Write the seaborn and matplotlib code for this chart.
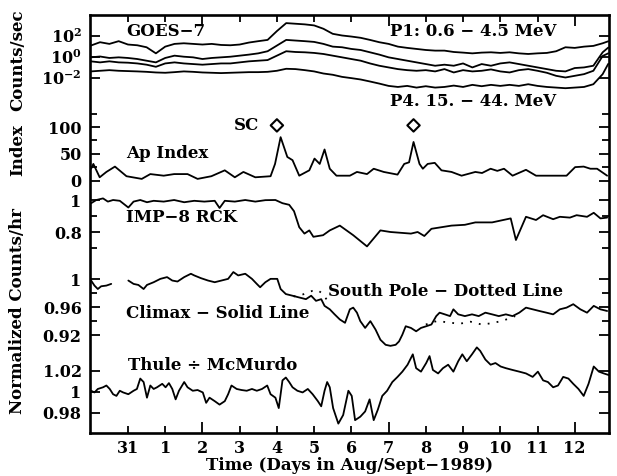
import numpy as np
import pandas as pd
import matplotlib
matplotlib.use("Agg")
import matplotlib.pyplot as plt
import seaborn as sns

# ---------------- data (time in days; 0 = Aug 31, 1 = Sept 1, ...) ----------------
day_ticks = [0, 1, 2, 3, 4, 5, 6, 7, 8, 9, 10, 11, 12]
day_labels = ["31", "1", "2", "3", "4", "5", "6", "7", "8", "9", "10", "11", "12"]

goes_t = [-1.0, -0.75, -0.5, -0.25, 0.0, 0.25, 0.5, 0.75, 1.0, 1.25, 1.5, 1.75, 2.0,
          2.25, 2.5, 2.75, 3.0, 3.25, 3.5, 3.75, 4.0, 4.25, 4.5, 4.75, 5.0, 5.25, 5.5,
          5.75, 6.0, 6.25, 6.5, 6.75, 7.0, 7.25, 7.5, 7.75, 8.0, 8.25, 8.5, 8.75, 9.0,
          9.25, 9.5, 9.75, 10.0, 10.25, 10.5, 10.75, 11.0, 11.25, 11.5, 11.75, 12.0,
          12.25, 12.5, 12.75, 12.9]
# log10(counts/sec) of the four GOES-7 proton channels (P1 top ... P4 bottom)
goes_p1_log10 = [1.04, 1.36, 1.20, 1.46, 1.14, 1.07, 0.88, 0.30, 0.94, 1.20, 1.26, 1.20, 1.14,
                 1.20, 1.10, 1.07, 1.14, 1.33, 1.46, 1.58, 2.42, 3.18, 3.12, 3.06, 2.96, 2.64,
                 2.16, 2.00, 1.90, 1.78, 1.58, 1.36, 1.20, 0.94, 0.82, 0.72, 0.62, 0.56, 0.56,
                 0.43, 0.37, 0.30, 0.37, 0.40, 0.34, 0.40, 0.30, 0.24, 0.30, 0.34, 0.50, 0.88,
                 0.82, 0.94, 1.01, 1.26, 1.45]
goes_p2_log10 = [-0.08, 0.00, -0.14, -0.08, -0.14, -0.24, -0.40, -0.56, -0.14, 0.08, -0.02, -0.08,
                 -0.24, -0.14, -0.08, -0.02, 0.08, 0.18, 0.30, 0.50, 1.04, 1.58, 1.52, 1.46, 1.39,
                 1.20, 0.94, 0.88, 0.72, 0.62, 0.40, 0.18, -0.08, -0.24, -0.40, -0.56, -0.72,
                 -0.88, -0.78, -0.88, -0.66, -1.04, -0.72, -0.88, -0.66, -0.56, -0.72, -0.88,
                 -1.04, -1.20, -1.36, -1.42, -1.10, -1.04, -0.88, 0.40, 0.85]
goes_p3_log10 = [-0.46, -0.56, -0.46, -0.56, -0.59, -0.66, -0.78, -0.98, -0.66, -0.56, -0.66,
                 -0.72, -0.78, -0.72, -0.66, -0.66, -0.56, -0.46, -0.40, -0.34, 0.08, 0.50, 0.43,
                 0.40, 0.34, 0.24, 0.08, -0.08, -0.24, -0.40, -0.66, -0.88, -1.04, -1.20, -1.30,
                 -1.36, -1.30, -1.42, -1.20, -1.52, -1.30, -1.42, -1.36, -1.23, -1.42, -1.52,
                 -1.30, -1.20, -1.36, -1.55, -1.84, -2.00, -1.84, -1.68, -1.36, 0.05, 0.30]
goes_p4_log10 = [-1.42, -1.36, -1.30, -1.36, -1.39, -1.42, -1.46, -1.52, -1.55, -1.49, -1.42,
                 -1.46, -1.52, -1.55, -1.58, -1.55, -1.52, -1.49, -1.49, -1.46, -1.36, -1.17,
                 -1.20, -1.30, -1.42, -1.62, -1.74, -1.94, -2.06, -2.19, -2.38, -2.58, -2.80,
                 -2.90, -2.80, -2.96, -2.83, -2.96, -2.90, -2.77, -2.90, -2.70, -2.83, -2.70,
                 -2.80, -2.70, -2.80, -2.64, -2.80, -2.90, -2.96, -3.02, -2.96, -2.90, -2.64,
                 -1.68, -0.70]

ap_t = [-0.99, -0.93, -0.76, -0.58, -0.35, -0.04, 0.37, 0.60, 0.96, 1.24, 1.60, 1.87, 2.24,
        2.60, 2.87, 3.10, 3.42, 3.83, 3.95, 4.10, 4.28, 4.42, 4.60, 4.87, 5.01, 5.15, 5.28,
        5.42, 5.60, 5.96, 6.15, 6.42, 6.60, 6.87, 7.24, 7.42, 7.55, 7.67, 7.83, 7.92, 8.05,
        8.24, 8.42, 8.69, 8.96, 9.33, 9.51, 9.74, 9.92, 10.10, 10.33, 10.69, 10.96, 11.78,
        12.01, 12.24, 12.42, 12.60, 12.87]
ap_index = [22, 31, 6, 16, 26, 8, 3, 12, 9, 12, 12, 3, 8, 19, 6, 16, 6, 8, 31, 81, 44, 38, 9,
            19, 41, 31, 58, 22, 9, 9, 16, 12, 22, 16, 11, 31, 34, 72, 31, 22, 31, 33, 19, 16,
            9, 16, 14, 22, 18, 22, 9, 20, 9, 9, 25, 26, 22, 22, 9]
sc_t = [4.0, 7.67]
sc_level = [103, 103]

imp_t = [-0.99, -0.85, -0.67, -0.54, -0.40, -0.22, 0.01, 0.15, 0.33, 0.51, 0.69, 0.96, 1.24,
         1.51, 1.78, 2.05, 2.33, 2.46, 2.60, 2.87, 3.15, 3.42, 3.69, 3.96, 4.15, 4.33, 4.46,
         4.60, 4.74, 4.87, 4.98, 5.24, 5.42, 5.69, 6.05, 6.42, 6.78, 7.05, 7.60, 7.78, 7.96,
         8.15, 8.69, 9.05, 9.33, 9.78, 10.28, 10.42, 10.69, 10.96, 11.15, 11.42, 11.60, 11.87,
         12.05, 12.33, 12.51, 12.69, 12.87]
imp_rck = [0.98, 1.0, 1.01, 0.99, 1.0, 0.995, 0.953, 0.99, 1.0, 0.986, 0.995, 0.99, 1.0, 0.986,
           0.995, 0.99, 0.995, 0.95, 0.995, 0.99, 1.0, 0.99, 0.999, 1.0, 0.98, 0.97, 0.93, 0.83,
           0.79, 0.81, 0.77, 0.78, 0.81, 0.84, 0.78, 0.71, 0.81, 0.80, 0.79, 0.80, 0.775, 0.82,
           0.84, 0.845, 0.86, 0.86, 0.885, 0.75, 0.895, 0.875, 0.905, 0.88, 0.895, 0.89, 0.905,
           0.895, 0.92, 0.885, 0.89]

climax_t = [-0.99, -0.90, -0.81, -0.72, -0.58, -0.45,
            0.01, 0.15, 0.28, 0.42, 0.51, 0.69, 0.87, 1.05, 1.19, 1.33, 1.51, 1.69, 1.78, 1.96,
            2.15, 2.33, 2.51, 2.69, 2.83, 2.96, 3.15, 3.33, 3.46, 3.55, 3.69, 3.83, 4.01, 4.10,
            4.24, 4.42, 4.60, 4.78, 4.92, 5.05, 5.19, 5.28, 5.42, 5.55, 5.69, 5.83, 5.96, 6.05,
            6.15, 6.24, 6.37, 6.51, 6.65, 6.78, 6.92, 7.05, 7.19, 7.28, 7.37, 7.46, 7.60, 7.74,
            7.87, 8.01, 8.15, 8.28, 8.37, 8.51, 8.65, 8.74, 8.87, 9.05, 9.24, 9.42, 9.60, 9.78,
            9.96, 10.15, 10.33, 10.51, 10.69, 10.87, 11.05, 11.24, 11.42, 11.60, 11.78, 11.96,
            12.15, 12.33, 12.51, 12.69, 12.87]
climax_seg = [0] * 6 + [1] * 87
climax = [0.9978, 0.9906, 0.9857, 0.9896, 0.9906, 0.9930,
          0.9978, 0.9930, 0.9915, 0.9857, 0.9915, 0.9954, 1.0002, 1.0027, 0.9978, 0.9964,
          1.0027, 1.0075, 1.0051, 1.0012, 0.9978, 0.9954, 0.9978, 1.0002, 1.0099, 1.0051,
          1.0075, 1.0002, 0.9930, 0.9882, 0.9954, 1.0002, 1.0002, 0.9857, 0.9785, 0.9761,
          0.9736, 0.9712, 0.9761, 0.9688, 0.9712, 0.9616, 0.9567, 0.9495, 0.9422, 0.9374,
          0.9567, 0.9591, 0.9519, 0.9398, 0.9301, 0.9398, 0.9277, 0.9132, 0.9060, 0.9045,
          0.9060, 0.9108, 0.9205, 0.9325, 0.9301, 0.9253, 0.9301, 0.9325, 0.9350, 0.9470,
          0.9519, 0.9495, 0.9470, 0.9567, 0.9495, 0.9470, 0.9495, 0.9470, 0.9519, 0.9495,
          0.9470, 0.9495, 0.9470, 0.9519, 0.9591, 0.9567, 0.9543, 0.9519, 0.9495, 0.9567,
          0.9591, 0.9640, 0.9567, 0.9519, 0.9616, 0.9567, 0.9543]

# South Pole: only the stretches where it departs from Climax (elsewhere hidden under it)
south_pole_t = [4.45, 4.70, 4.95, 5.10, 5.25, 5.40,
                8.00, 8.30, 8.60, 8.90, 9.20, 9.50, 9.80, 10.10, 10.40]
south_pole_seg = [0] * 6 + [1] * 9
south_pole = [0.975, 0.978, 0.983, 0.984, 0.978, 0.965,
              0.935, 0.940, 0.938, 0.936, 0.939, 0.935, 0.937, 0.941, 0.947]

thule_t = [-0.99, -0.90, -0.81, -0.67, -0.58, -0.49, -0.40, -0.31, -0.22, -0.13, 0.01, 0.15,
           0.24, 0.33, 0.42, 0.51, 0.60, 0.69, 0.78, 0.92, 1.01, 1.10, 1.19, 1.28, 1.37, 1.51,
           1.60, 1.74, 1.87, 2.01, 2.10, 2.19, 2.33, 2.46, 2.60, 2.69, 2.78, 2.92, 3.05, 3.19,
           3.33, 3.46, 3.60, 3.74, 3.83, 3.96, 4.05, 4.15, 4.24, 4.33, 4.42, 4.55, 4.69, 4.83,
           4.96, 5.10, 5.19, 5.28, 5.35, 5.42, 5.51, 5.65, 5.78, 5.92, 6.01, 6.10, 6.24, 6.37,
           6.49, 6.60, 6.71, 6.83, 6.96, 7.10, 7.24, 7.37, 7.51, 7.65, 7.74, 7.87, 8.01, 8.10,
           8.19, 8.33, 8.46, 8.60, 8.74, 8.87, 8.98, 9.10, 9.24, 9.37, 9.46, 9.60, 9.74, 9.87,
           10.01, 10.15, 10.33, 10.51, 10.69, 10.87, 11.01, 11.15, 11.28, 11.42, 11.55, 11.69,
           11.83, 11.96, 12.10, 12.24, 12.37, 12.51, 12.65, 12.78, 12.92]
thule_mcmurdo = [1.0009, 0.9993, 1.0026, 1.0042, 1.0059, 1.0026, 0.9976, 0.9960, 1.0009, 0.9993,
                 0.9976, 1.0009, 1.0026, 1.0125, 1.0092, 0.9943, 1.0059, 1.0026, 1.0042, 1.0075,
                 1.0042, 1.0082, 1.0026, 0.9927, 1.0009, 1.0092, 1.0042, 1.0009, 1.0016, 0.9993,
                 0.9894, 0.9943, 0.9910, 0.9877, 0.9910, 0.9976, 1.0059, 1.0026, 1.0016, 1.0009,
                 1.0026, 1.0009, 1.0026, 1.0059, 0.9976, 0.9943, 0.9844, 1.0108, 1.0135, 1.0092,
                 1.0042, 1.0009, 0.9993, 1.0026, 0.9976, 0.9910, 0.9861, 1.0009, 1.0092, 1.0042,
                 0.9844, 0.9696, 0.9778, 1.0009, 0.9960, 0.9729, 0.9762, 0.9812, 0.9927, 0.9729,
                 0.9828, 0.9960, 1.0009, 1.0092, 1.0141, 1.0191, 1.0257, 1.0356, 1.0224, 1.0191,
                 1.0273, 1.0339, 1.0207, 1.0174, 1.0224, 1.0257, 1.0191, 1.0290, 1.0356, 1.0290,
                 1.0356, 1.0422, 1.0389, 1.0306, 1.0257, 1.0273, 1.0240, 1.0224, 1.0207, 1.0191,
                 1.0174, 1.0141, 1.0191, 1.0108, 1.0092, 1.0042, 1.0059, 1.0141, 1.0125, 1.0075,
                 1.0026, 0.9960, 1.0075, 1.0240, 1.0191, 1.0174, 1.0158]

# ---------------- styling ----------------
sns.set_theme(style="white")
FAM = ["DejaVu Serif"]
plt.rcParams["font.family"] = FAM
plt.rcParams["font.weight"] = "bold"
plt.rcParams["mathtext.fontset"] = "custom"
plt.rcParams["mathtext.rm"] = "DejaVu Serif:bold"
plt.rcParams["mathtext.it"] = "DejaVu Serif:bold"
plt.rcParams["mathtext.bf"] = "DejaVu Serif:bold"
plt.rcParams["mathtext.default"] = "rm"
FS = 12.0
TFS = 11.5
LW = 1.3
INK = "black"

W, H = 617, 476
fig = plt.figure(figsize=(W / 100, H / 100), dpi=100)
fig.patch.set_facecolor("white")
PL, PR, PT, PB = 90, 609, 15, 433
rect = [PL / W, 1 - PB / H, (PR - PL) / W, (PB - PT) / H]
XLIM = (-1.02, 12.92)


def lim_from(v1, p1, v2, p2):
    s = (v2 - v1) / (p2 - p1)
    return v1 + s * (PB - p1), v1 + s * (PT - p1)


# frame / time axis
ax0 = fig.add_axes(rect)
ax0.set_facecolor("white")
ax0.set_xlim(*XLIM)
ax0.set_ylim(0, 1)
ax0.set_yticks([])
for sp in ax0.spines.values():
    sp.set_linewidth(1.9)
    sp.set_color(INK)
major_days = [2, 7, 12]
ax0.set_xticks(major_days, [day_labels[day_ticks.index(d)] for d in major_days])
minor_days = [d for d in day_ticks if d not in major_days]
ax0.set_xticks(minor_days, [day_labels[day_ticks.index(d)] for d in minor_days], minor=True)
ax0.tick_params(axis="x", which="both", direction="in", top=True, bottom=True,
                labelsize=TFS, colors=INK, width=1.3, pad=5)
ax0.tick_params(axis="x", which="major", length=8)
ax0.tick_params(axis="x", which="minor", length=5)
ax0.set_xlabel("Time (Days in Aug/Sept\u22121989)", fontsize=FS, color=INK, labelpad=0,
               fontweight="bold")


def panel(ylim, major, labels, minor=(), log=False):
    ax = fig.add_axes(rect)
    ax.patch.set_visible(False)
    for sp in ax.spines.values():
        sp.set_visible(False)
    if log:
        ax.set_yscale("log")
    ax.set_xlim(*XLIM)
    ax.set_ylim(*ylim)
    ax.set_xticks([])
    ax.set_yticks(major, labels)
    ax.set_yticks(list(minor), minor=True)
    if log:
        ax.yaxis.set_minor_locator(matplotlib.ticker.NullLocator())
    ax.tick_params(axis="y", which="both", direction="in", left=True, right=True,
                   labelleft=True, labelright=False, labelsize=TFS, colors=INK, width=1.3, pad=6)
    ax.tick_params(axis="y", which="major", length=7)
    ax.tick_params(axis="y", which="minor", length=5)
    return ax


def line(ax, x, y, **kw):
    sns.lineplot(x=x, y=y, ax=ax, color=INK, linewidth=LW, estimator=None, sort=False, **kw)
    ax.set(xlabel="", ylabel="")


# GOES-7 (log)
lg1, lg2 = lim_from(2.0, 35.5, -2.0, 77.5)
ax_g = panel((10 ** lg1, 10 ** lg2), [1e-2, 1e0, 1e2],
             [r"$10^{-2}$", r"$10^{0}$", r"$10^{2}$"], log=True)
for series in (goes_p1_log10, goes_p2_log10, goes_p3_log10, goes_p4_log10):
    line(ax_g, goes_t, np.power(10.0, np.asarray(series)))
ax_g.set_ylim(10 ** lg1, 10 ** lg2)

# Ap index
ax_ap = panel(lim_from(0, 180.5, 100, 127), [0, 50, 100], ["0", "50", "100"], minor=[25, 75, 125])
line(ax_ap, ap_t, ap_index)
sns.scatterplot(x=sc_t, y=sc_level, ax=ax_ap, marker="D", s=40, linewidth=1.5)
sc = ax_ap.collections[-1]
sc.set_facecolor("none")
sc.set_edgecolor(INK)
ax_ap.set_ylim(*lim_from(0, 180.5, 100, 127))

# IMP-8 RCK
ax_imp = panel(lim_from(1.0, 200, 0.8, 232), [0.8, 1.0], ["0.8", "1"], minor=[0.7, 0.9])
line(ax_imp, imp_t, imp_rck)
ax_imp.set_ylim(*lim_from(1.0, 200, 0.8, 232))

# Climax (solid) and South Pole (dotted)
ax_cl = panel(lim_from(1.0, 279, 0.92, 335), [0.92, 0.96, 1.0], ["0.92", "0.96", "1"],
              minor=[0.94, 0.98])
cl_df = pd.DataFrame({"t": climax_t, "v": climax, "seg": climax_seg})
sns.lineplot(data=cl_df, x="t", y="v", units="seg", estimator=None, sort=False, ax=ax_cl,
             color=INK, linewidth=LW)
sp_df = pd.DataFrame({"t": south_pole_t, "v": south_pole, "seg": south_pole_seg})
sns.lineplot(data=sp_df, x="t", y="v", units="seg", estimator=None, sort=False, ax=ax_cl,
             color=INK, linewidth=1.3, linestyle=(0, (1, 4)))
ax_cl.set(xlabel="", ylabel="")
ax_cl.set_ylim(*lim_from(1.0, 279, 0.92, 335))

# Thule / McMurdo
ax_th = panel(lim_from(1.0, 391.7, 0.98, 412.7), [0.98, 1.0, 1.02], ["0.98", "1", "1.02"])
line(ax_th, thule_t, thule_mcmurdo)
ax_th.set_ylim(*lim_from(1.0, 391.7, 0.98, 412.7))


# ---------------- annotations ----------------
def ftext(x, y, s, **kw):
    kw.setdefault("ha", "left")
    kw.setdefault("va", "center")
    fig.text(x / W, 1 - y / H, s, fontsize=FS, color=INK, fontweight="bold", **kw)


ftext(126, 32, "GOES\u22127")
ftext(390, 32, "P1: 0.6 \u2212 4.5 MeV")
ftext(390, 101, "P4. 15. \u2212 44. MeV")
ftext(234, 126, "SC")
ftext(126, 153, "Ap Index")
ftext(126, 218, "IMP\u22128 RCK")
ftext(328, 292, "South Pole \u2212 Dotted Line")
ftext(126, 313, "Climax \u2212 Solid Line")
ftext(128, 365, "Thule \u00f7 McMurdo")

ftext(18, 60, "Counts/sec", rotation=90, ha="center")
ftext(18, 150, "Index", rotation=90, ha="center")
ftext(18, 311, "Normalized Counts/hr", rotation=90, ha="center")

fig.savefig("out.png", dpi=100, facecolor="white")
